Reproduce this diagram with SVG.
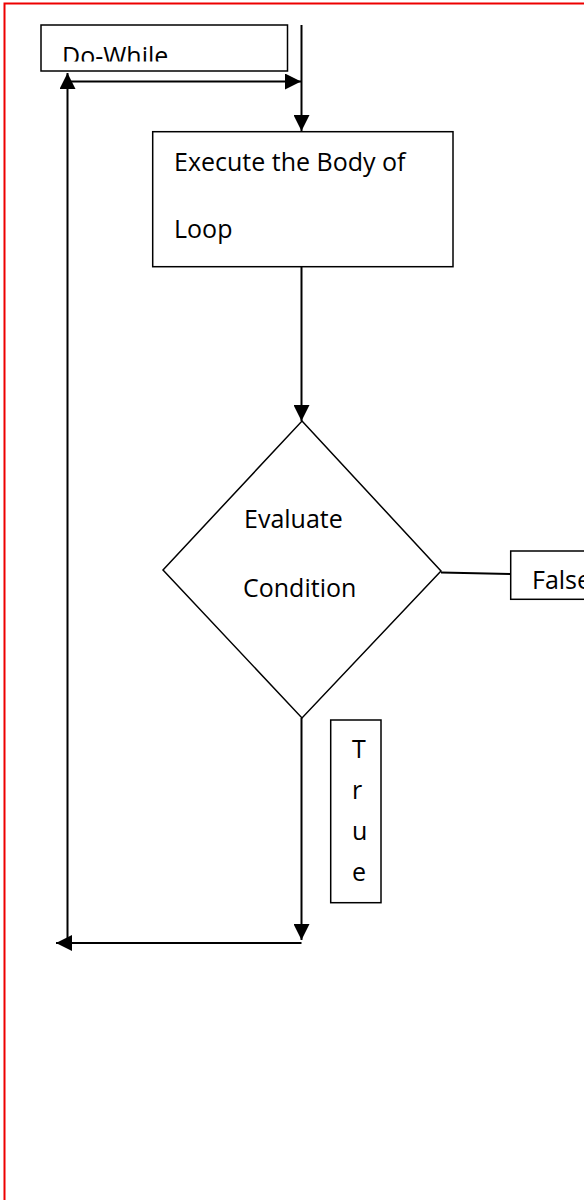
<svg xmlns="http://www.w3.org/2000/svg" width="584" height="1200" viewBox="0 0 584 1200">
<style>
.box{fill:#fff;stroke:#000;stroke-width:1.5}
.ln{fill:none;stroke:#000;stroke-width:2}
.t{font-family:"Open Sans","Liberation Sans",sans-serif;font-size:25px;fill:#000}
</style>
<defs>
<marker id="ah" markerUnits="userSpaceOnUse" markerWidth="16" markerHeight="16" viewBox="0 0 14 14" refX="14" refY="7" orient="auto">
<path d="M0,0 L14,7 L0,14 Z" fill="#000"/>
</marker>
<clipPath id="dwclip"><rect x="41" y="25" width="246" height="36.5"/></clipPath>
</defs>
<rect x="0" y="0" width="584" height="1200" fill="#fff"/>
<rect x="4.5" y="3.5" width="600" height="1220" fill="none" stroke="#e00" stroke-width="2"/>
<g id="connectors">
<line class="ln" x1="301.5" y1="25" x2="301.5" y2="131" marker-end="url(#ah)"/>
<line class="ln" x1="67.5" y1="943" x2="67.5" y2="73" marker-end="url(#ah)"/>
<line class="ln" x1="67.5" y1="81.5" x2="301" y2="81.5" marker-end="url(#ah)"/>
<line class="ln" x1="301.5" y1="267" x2="301.5" y2="421" marker-end="url(#ah)"/>
<line class="ln" x1="441" y1="572.5" x2="511" y2="574"/>
<line class="ln" x1="301.5" y1="718" x2="301.5" y2="940" marker-end="url(#ah)"/>
<line class="ln" x1="301.5" y1="943" x2="56" y2="943" marker-end="url(#ah)"/>
</g>
<g id="do-while">
<rect class="box" x="41" y="25" width="246.5" height="46"/>
<text class="t" x="62" y="64.5" clip-path="url(#dwclip)">Do-While</text>
</g>
<g id="body">
<rect class="box" x="152.7" y="131.7" width="300.3" height="135"/>
<text class="t" x="174" y="171">Execute the Body of</text>
<text class="t" x="174" y="238">Loop</text>
</g>
<g id="condition">
<polygon class="box" points="302,421 441,571 302,718 163,570"/>
<text class="t" x="244" y="528">Evaluate</text>
<text class="t" x="243" y="596.5">Condition</text>
</g>
<g id="false">
<rect class="box" x="510.7" y="551" width="100" height="48.3"/>
<text class="t" x="532" y="589">False</text>
</g>
<g id="true">
<rect class="box" x="330.7" y="720" width="50.3" height="182.7"/>
<text class="t" x="352" y="757.5">T</text>
<text class="t" x="352" y="798.5">r</text>
<text class="t" x="352" y="839.5">u</text>
<text class="t" x="352" y="880.5">e</text>
</g>
</svg>
